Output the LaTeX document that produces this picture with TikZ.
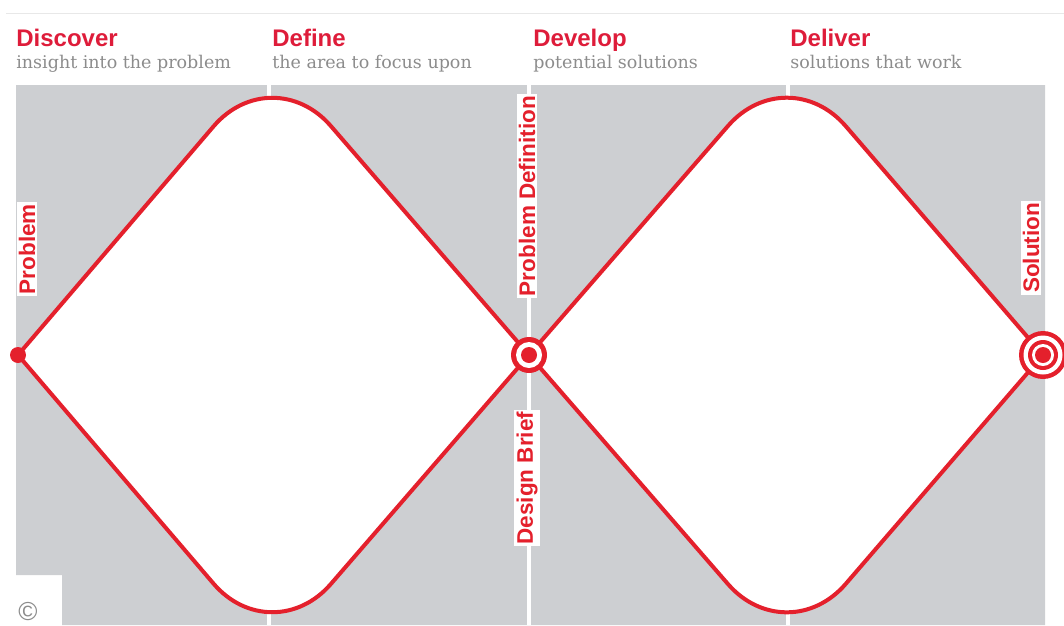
\documentclass[tikz,border=0pt]{standalone}
\usepackage{fontspec}
\setmainfont{DejaVu Serif}
\setsansfont{Liberation Sans}
\newfontfamily\copyfont{Liberation Sans}
\usetikzlibrary{calc}

\definecolor{ddred}{RGB}{228,32,44}
\definecolor{ddhead}{RGB}{222,28,58}
\definecolor{ddgrey}{RGB}{205,207,210}
\definecolor{ddtext}{RGB}{140,140,140}
\definecolor{ddrule}{RGB}{232,232,232}

\tikzset{every picture/.style={line width=0.75pt}}
\tikzset{
  phase/.style={anchor=base west, inner sep=0pt, text=ddhead, font=\sffamily\bfseries\fontsize{24}{28}\selectfont},
  phasesub/.style={anchor=base west, inner sep=0pt, text=ddtext, font=\fontsize{17.5}{21}\selectfont},
  milestone/.style={rotate=90, fill=white, inner sep=2pt, text=ddred, font=\sffamily\bfseries\fontsize{22.5}{25}\selectfont},
  diamondline/.style={draw=ddred, line width=4pt, line join=round, fill=white},
  gapline/.style={draw=white, line width=4pt},
}

\begin{document}
\begin{tikzpicture}[x=1pt,y=1pt,yscale=-1,xscale=1]
\useasboundingbox (0,0) rectangle (1064,625);

%Top rule
\draw [ddrule, line width=1pt] (6,13) -- (1064,13);
%Grey panel with notch
\fill [ddgrey] (16,85) -- (1045,85) -- (1045,625) -- (62,625) -- (62,575) -- (16,575) -- cycle;
%Panel gaps
\draw [gapline] (269,85) -- (269,625);
\draw [gapline] (529,85) -- (529,625);
\draw [gapline] (788,85) -- (788,625);

%Diamond corners
\coordinate (l1) at (18,355);
\coordinate (t1) at (272,58);
\coordinate (r1) at (529,355);
\coordinate (b1) at (272,652);
\coordinate (l2) at (529,355);
\coordinate (t2) at (787,58);
\coordinate (r2) at (1043,355);
\coordinate (b2) at (787,652);

%Diamond: discover / define
\path [diamondline] (l1) -- ($(t1)!90pt!(l1)$) .. controls ($(t1)!40pt!(l1)$) and ($(t1)!40pt!(r1)$) .. ($(t1)!90pt!(r1)$)
  -- (r1) -- ($(b1)!90pt!(r1)$) .. controls ($(b1)!40pt!(r1)$) and ($(b1)!40pt!(l1)$) .. ($(b1)!90pt!(l1)$) -- cycle;
%Diamond: develop / deliver
\path [diamondline] (l2) -- ($(t2)!90pt!(l2)$) .. controls ($(t2)!40pt!(l2)$) and ($(t2)!40pt!(r2)$) .. ($(t2)!90pt!(r2)$)
  -- (r2) -- ($(b2)!90pt!(r2)$) .. controls ($(b2)!40pt!(r2)$) and ($(b2)!40pt!(l2)$) .. ($(b2)!90pt!(l2)$) -- cycle;

%Milestone labels
\node [milestone] (problem) at (27,249) {Problem};
\node [milestone] (probdef) at (527,196) {Problem Definition};
\node [milestone] (brief) at (527,478) {Design Brief};
\node [milestone] (solution) at (1031,248) {Solution};

%Start dot
\fill [ddred] (l1) circle (8);
%Middle ring
\fill [ddred] (r1) circle (18);
\fill [white] (r1) circle (13);
\fill [ddred] (r1) circle (8);
%End target
\fill [ddred] (r2) circle (24);
\fill [white] (r2) circle (19.5);
\fill [ddred] (r2) circle (15);
\fill [white] (r2) circle (11);
\fill [ddred] (r2) circle (8);

% Text Node
\node [phase] (discover) at (16,46) {Discover};
\node [phasesub] (discoversub) at (16,68) {insight into the problem};
% Text Node
\node [phase] (define) at (272,46) {Define};
\node [phasesub] (definesub) at (272,68) {the area to focus upon};
% Text Node
\node [phase] (develop) at (533,46) {Develop};
\node [phasesub] (developsub) at (533,68) {potential solutions};
% Text Node
\node [phase] (deliver) at (790,46) {Deliver};
\node [phasesub] (deliversub) at (790,68) {solutions that work};
% Text Node
\node [text=ddtext, font=\copyfont\fontsize{26}{26}\selectfont] (copyr) at (28,612) {©};

\end{tikzpicture}
\end{document}
